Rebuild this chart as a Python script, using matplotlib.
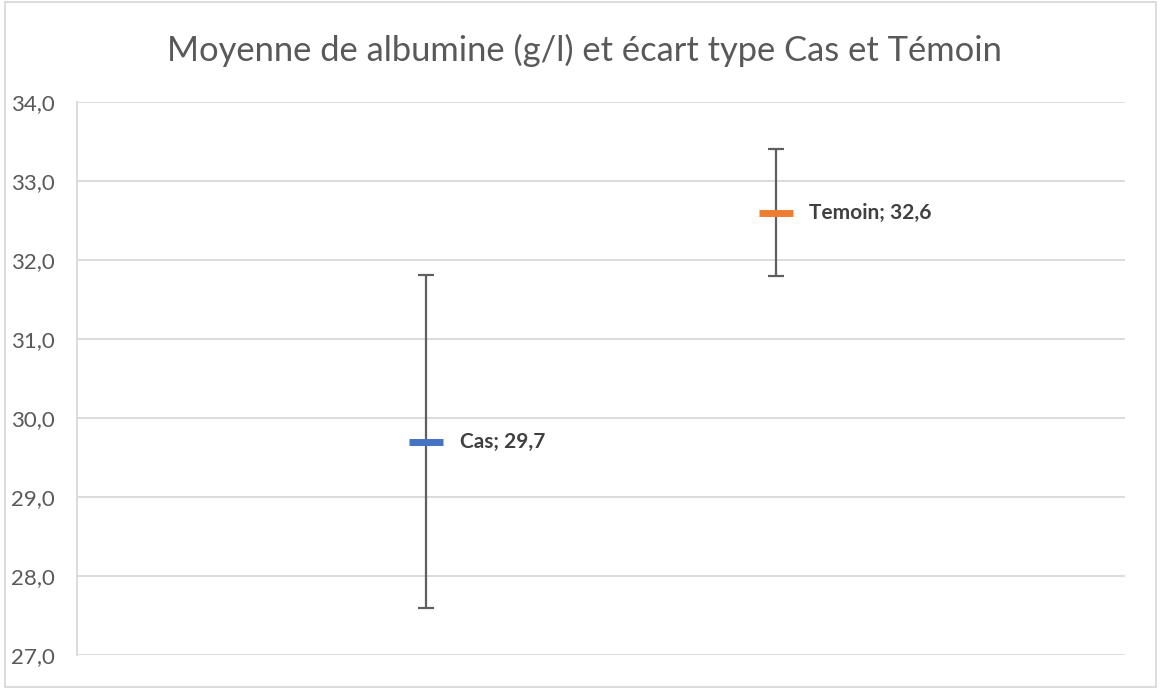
import matplotlib.pyplot as plt
from matplotlib.patches import Rectangle
from matplotlib.ticker import FuncFormatter

# Data
groups = ['Cas', 'Temoin']
x_pos = [1, 2]
means = [29.7, 32.6]
sds = [2.11, 0.8]
colors = ['#4472C4', '#ED7D31']

plt.rcParams['font.family'] = ['Lato', 'DejaVu Sans']

fig = plt.figure(figsize=(11.61, 6.89), dpi=100)
ax = fig.add_axes([0.0663, 0.0493, 0.9027, 0.8027])

for x, m, s, c, g in zip(x_pos, means, sds, colors, groups):
    ax.errorbar(x, m, yerr=s, fmt='none', ecolor='#5f5f5f', elinewidth=1.6,
                capsize=6, capthick=1.6, zorder=2)
    ax.plot(x, m, marker='_', markersize=24, markeredgewidth=5, color=c, zorder=3)
    ax.annotate(f'{g}; {str(m).replace(".", ",")}', (x, m), xytext=(24, 0),
                textcoords='offset points', va='center', ha='left',
                fontsize=15, fontweight='bold', color='#404040')

ax.set_xlim(0, 3)
ax.set_ylim(27, 34)
ax.set_yticks(range(27, 35))
ax.yaxis.set_major_formatter(FuncFormatter(lambda v, p: f'{v:.1f}'.replace('.', ',')))
ax.tick_params(axis='y', length=0, labelsize=16, labelcolor='#595959', pad=16)
ax.set_xticks([])
ax.grid(axis='y', color='#d9d9d9', linewidth=1.3)
ax.set_axisbelow(True)
for side in ['top', 'right', 'bottom']:
    ax.spines[side].set_visible(False)
ax.spines['left'].set_color('#d9d9d9')
ax.spines['left'].set_linewidth(1.3)

fig.text(0.503, 0.927, 'Moyenne de albumine (g/l) et écart type Cas et Témoin',
         ha='center', va='center', fontsize=24.8, color='#595959')

# chart border
fig.patches.append(Rectangle((0.004, 0.003), 0.992, 0.994, transform=fig.transFigure,
                             fill=False, edgecolor='#d9d9d9', linewidth=1.3))

plt.savefig('out.png', dpi=100)
